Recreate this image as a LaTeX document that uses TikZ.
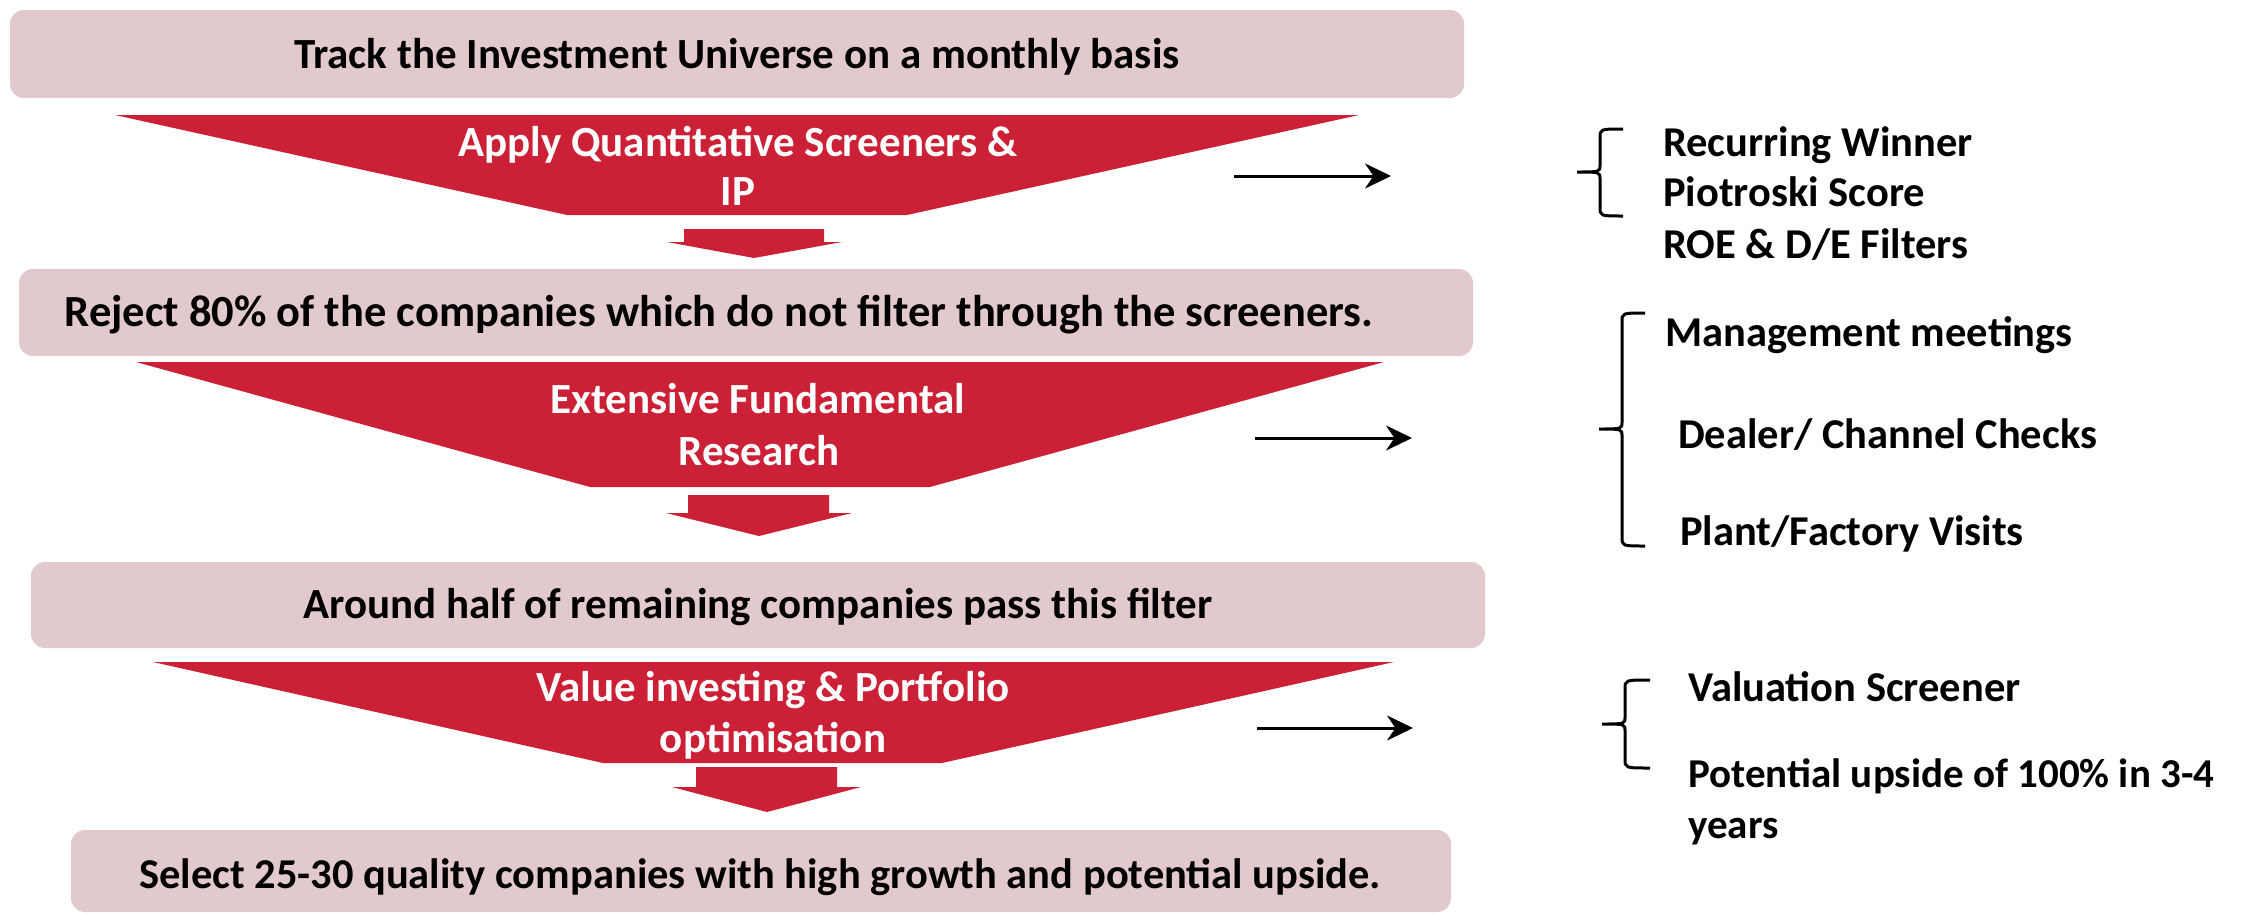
\documentclass[tikz,border=0pt]{standalone}
\usepackage{fontspec}
\setmainfont{Carlito}
\usetikzlibrary{arrows.meta}
\definecolor{boxpink}{RGB}{226,201,203}
\definecolor{funnelred}{RGB}{203,32,54}

% curly bracket: #1 end x, #2 spine x, #3 tip x, #4 top y, #5 middle y, #6 bottom y
\newcommand\curlybracket[6]{%
  \draw[bracket] (#1,#4) .. controls (#2,#4) .. (#2,#4+9) -- (#2,#5-7)
    .. controls (#2,#5) .. (#3,#5) .. controls (#2,#5) .. (#2,#5+7)
    -- (#2,#6-9) .. controls (#2,#6) .. (#1,#6);}

\begin{document}
\begin{tikzpicture}[x=1pt,y=-1pt,
  stage/.style={fill=boxpink, rounded corners=14pt, inner sep=0pt},
  boxtext/.style={anchor=base, font=\fontsize{43}{50}\selectfont\bfseries, inner sep=0pt},
  funneltext/.style={anchor=base, font=\fontsize{43}{50}\selectfont\bfseries, text=white, inner sep=0pt},
  itemtext/.style={anchor=base west, font=\fontsize{42.5}{50}\selectfont\bfseries, inner sep=0pt},
  pointer/.style={line width=3pt, -{Stealth[length=26pt,width=25pt]}},
  bracket/.style={line width=3pt}
]
\useasboundingbox (0,0) rectangle (2242,913);

% stage boxes
\node[stage, minimum width=1454pt, minimum height=88pt] (s1) at (737,54) {};
\node[stage, minimum width=1454pt, minimum height=87pt] (s2) at (746,312.5) {};
\node[stage, minimum width=1454pt, minimum height=86pt] (s3) at (758,605) {};
\node[stage, minimum width=1380pt, minimum height=82pt] (s4) at (761,871) {};

\node[boxtext] (t1) at (737,68) {Track the Investment Universe on a monthly basis};
\node[boxtext, font=\fontsize{44.5}{50}\selectfont\bfseries] (t2) at (719,326) {Reject 80\% of the companies which do not filter through the screeners.};
\node[boxtext] (t3) at (758,618) {Around half of remaining companies pass this filter};
\node[boxtext, font=\fontsize{42.5}{50}\selectfont\bfseries] (t4) at (760,888) {Select 25-30 quality companies with high growth and potential upside.};

% funnels
\fill[funnelred] (115,115) -- (1359,115) -- (907,215) -- (567,215) -- cycle;
\fill[funnelred] (136,362) -- (1384,362) -- (930,487) -- (590,487) -- cycle;
\fill[funnelred] (153,662) -- (1394,662) -- (942,763) -- (603,763) -- cycle;

\node[funneltext] (f1a) at (738,156) {Apply Quantitative Screeners \&};
\node[funneltext] (f1b) at (738,205) {IP};
\node[funneltext] (f2a) at (758,413) {Extensive Fundamental};
\node[funneltext] (f2b) at (759,465) {Research};
\node[funneltext] (f3a) at (773,701) {Value investing \& Portfolio};
\node[funneltext] (f3b) at (773,752) {optimisation};

% block arrows between funnel and next stage
\fill[funnelred] (684,229) -- (824,229) -- (824,242) -- (842,242) -- (754,258) -- (667,242) -- (684,242) -- cycle;
\fill[funnelred] (688,495) -- (829,495) -- (829,513) -- (852,513) -- (759,536) -- (666,513) -- (688,513) -- cycle;
\fill[funnelred] (696,767) -- (837,767) -- (837,787) -- (861,787) -- (767,812) -- (672,787) -- (696,787) -- cycle;

% side pointers
\coordinate (p1s) at (1234,176); \coordinate (p1e) at (1391,176);
\coordinate (p2s) at (1255,438); \coordinate (p2e) at (1412,438);
\coordinate (p3s) at (1257,728); \coordinate (p3e) at (1413,728);
\draw[pointer] (p1s) -- (p1e);
\draw[pointer] (p2s) -- (p2e);
\draw[pointer] (p3s) -- (p3e);

% brackets
\curlybracket{1623}{1600}{1577}{129}{172}{216}
\curlybracket{1645}{1622}{1599}{313}{429}{546}
\curlybracket{1650}{1625}{1602}{680}{724}{768}

% detail lists
\node[itemtext] (r1) at (1663,156) {Recurring Winner};
\node[itemtext] (r2) at (1663,206) {Piotroski Score};
\node[itemtext] (r3) at (1663,258) {ROE \& D/E Filters};
\node[itemtext] (r4) at (1665,346) {Management meetings};
\node[itemtext] (r5) at (1678,448) {Dealer/ Channel Checks};
\node[itemtext] (r6) at (1680,545) {Plant/Factory Visits};
\node[itemtext] (r7) at (1688,701) {Valuation Screener};
\node[itemtext, font=\fontsize{41}{50}\selectfont\bfseries] (r8) at (1688,787) {Potential upside of 100\% in 3-4};
\node[itemtext, font=\fontsize{41}{50}\selectfont\bfseries] (r9) at (1688,838) {years};
\end{tikzpicture}
\end{document}
